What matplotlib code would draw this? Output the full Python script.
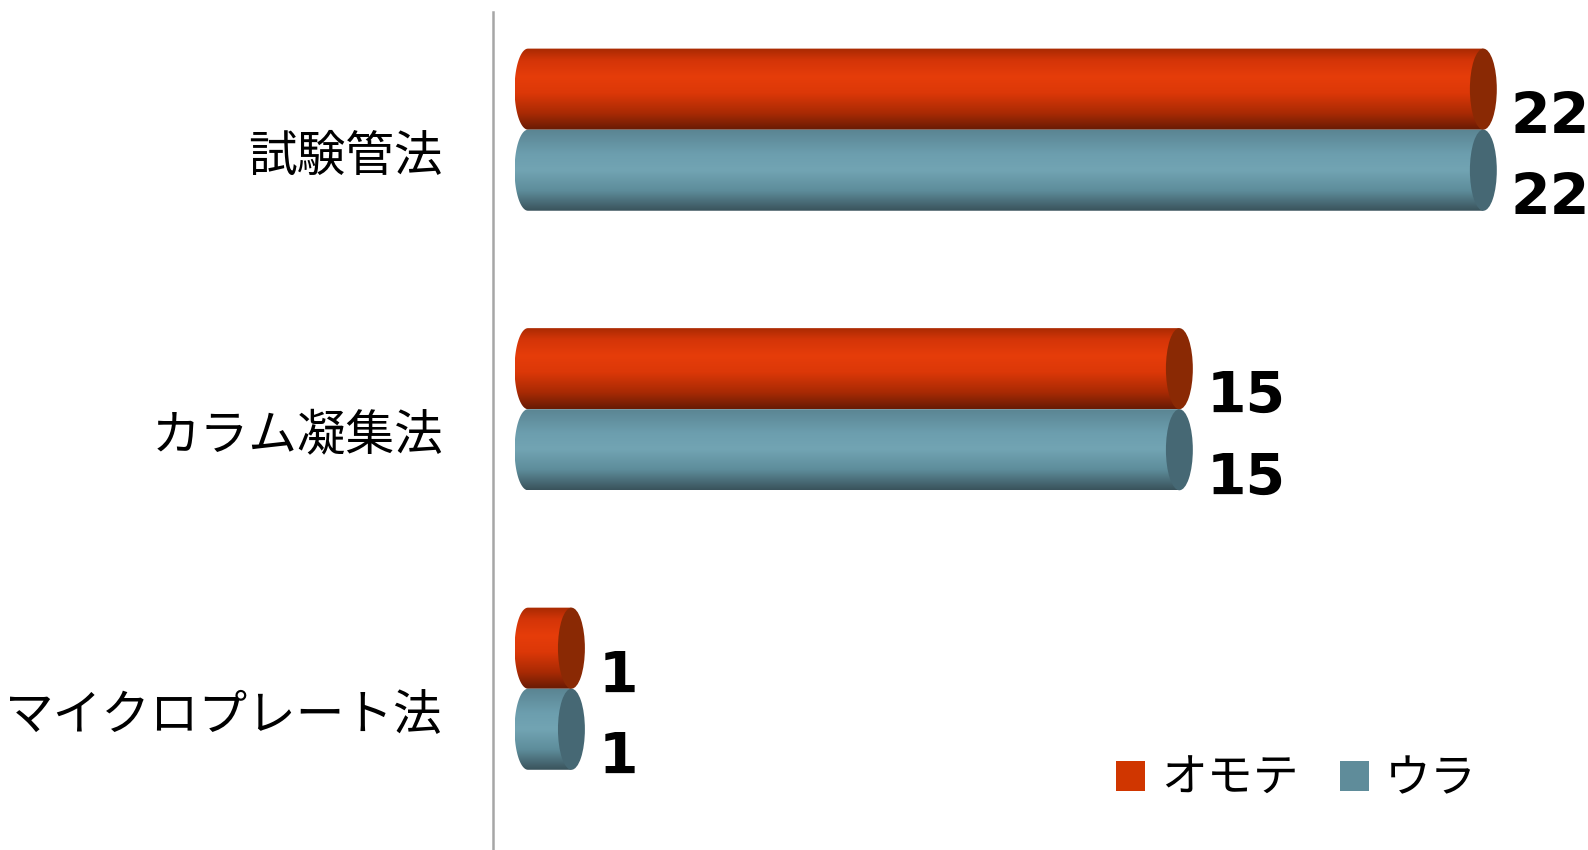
import numpy as np
import matplotlib
matplotlib.use("Agg")
import matplotlib.pyplot as plt
from matplotlib.colors import LinearSegmentedColormap
from matplotlib.patches import Polygon, Ellipse, Patch
from matplotlib.transforms import ScaledTranslation

plt.rcParams['font.family'] = ['Noto Sans CJK JP', 'DejaVu Sans']

categories = ['試験管法', 'カラム凝集法', 'マイクロプレート法']
series_names = ['オモテ', 'ウラ']
omote = [22, 15, 1]
ura = [22, 15, 1]

# shading from top to bottom of each cylinder
orange_shade = LinearSegmentedColormap.from_list('orange', [
    (0.0, '#a82a02'), (0.15, '#d43508'), (0.35, '#e63d0a'),
    (0.55, '#dc3808'), (0.8, '#a82a04'), (1.0, '#681b04')])
teal_shade = LinearSegmentedColormap.from_list('teal', [
    (0.0, '#5a8492'), (0.3, '#6c9eae'), (0.5, '#72a4b3'),
    (0.75, '#5e8d9b'), (1.0, '#3a535c')])
cap_colors = ['#8a2904', '#466874']
flat_colors = ['#d03600', '#5f8c9a']

fig = plt.figure(figsize=(15.88, 8.5), dpi=100)
ax = fig.add_axes([493 / 1588, 0, 1 - 493 / 1588, 1 - 12 / 850])

bar_h = 0.29
cap_w = 0.31  # half width of the end ellipse, in data units
grad = np.linspace(0, 1, 200).reshape(-1, 1)


def cylinder(y0, value, cmap, cap_color):
    y1 = y0 + bar_h
    yc = (y0 + y1) / 2
    t = np.linspace(np.pi / 2, 3 * np.pi / 2, 60)
    left = np.column_stack([cap_w * np.cos(t), yc - (bar_h / 2) * np.sin(t)])
    pts = np.vstack([left, [[value, y1], [value, y0]]])
    clip = Polygon(pts, closed=True, facecolor='none', edgecolor='none',
                   transform=ax.transData)
    ax.add_patch(clip)
    img = ax.imshow(grad, cmap=cmap, aspect='auto', origin='lower',
                    extent=(-cap_w, value, y0, y1), interpolation='bilinear',
                    zorder=2)
    img.set_clip_path(clip)
    ax.add_patch(Ellipse((value, yc), 2 * cap_w, bar_h, facecolor=cap_color,
                         edgecolor='none', zorder=3))


y = np.arange(len(categories))
for i, (vals, cmap) in enumerate([(omote, orange_shade), (ura, teal_shade)]):
    for k, v in enumerate(vals):
        y0 = y[k] - bar_h + i * bar_h
        cylinder(y0, v, cmap, cap_colors[i])
        ax.annotate(str(v), (v + cap_w, y0 + bar_h / 2), xytext=(10, -21),
                    textcoords='offset points', ha='left', va='center',
                    fontsize=41, fontweight='bold', family='DejaVu Sans',
                    color='black', zorder=4)

ax.set_xlim(-0.806, 24.41)
ax.set_ylim(2.577, -0.421)

ax.set_yticks(y)
ax.set_yticklabels(categories, fontsize=35)
ax.tick_params(axis='y', length=0, pad=36)
shift = ScaledTranslation(0, -0.22, fig.dpi_scale_trans)
for lab in ax.get_yticklabels():
    lab.set_transform(lab.get_transform() + shift)
ax.set_xticks([])

for side in ['top', 'right', 'bottom']:
    ax.spines[side].set_visible(False)
ax.spines['left'].set_color('#a6a6a6')
ax.spines['left'].set_linewidth(1.8)

handles = [Patch(facecolor=c, edgecolor='none') for c in flat_colors]
fig.legend(handles, series_names, loc='center left',
           bbox_to_anchor=(1116 / 1588, 1 - 779 / 850), ncol=2,
           frameon=False, fontsize=33, handlelength=0.63, handleheight=0.63,
           handletextpad=0.35, columnspacing=0.9, borderpad=0,
           borderaxespad=0)

fig.savefig('out.png', dpi=100)
